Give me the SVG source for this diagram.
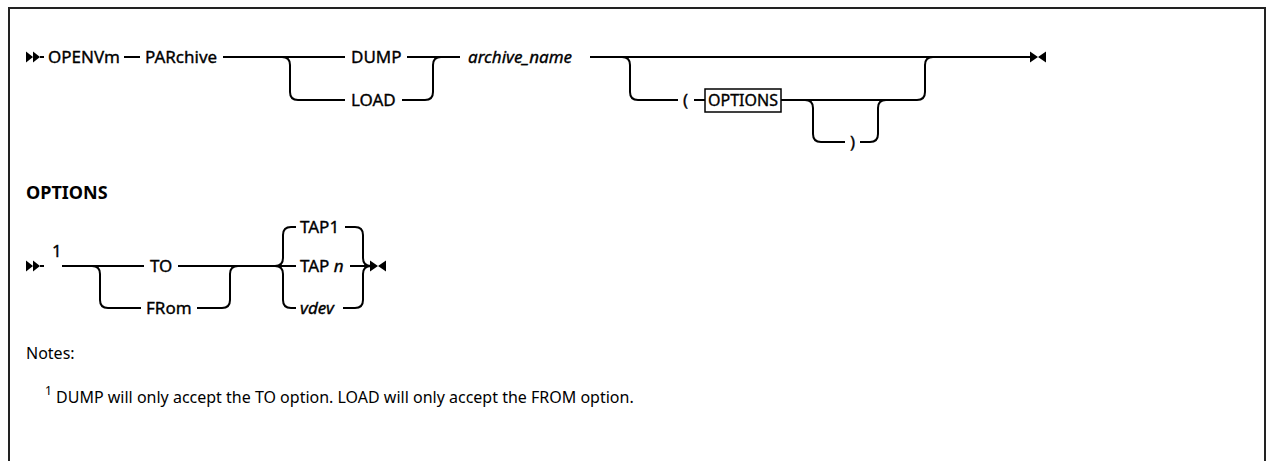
<svg xmlns="http://www.w3.org/2000/svg" width="1274" height="461" viewBox="0 0 1274 461">
<style>
text{font-family:"Noto Sans","Liberation Sans",sans-serif;font-size:16px;fill:#000}
.d{stroke:#000;stroke-width:0.35;font-size:17px}
.bx{font-size:16px}
.b{font-weight:bold;font-size:18px}
.i{font-style:italic}
.sup{font-size:12px}
.ln{fill:none;stroke:#000;stroke-width:2}
.ar{fill:#000}
</style>
<rect width="1274" height="461" fill="#fff"/>
<path d="M9,461 V8 H1265 V461" fill="none" stroke="#222" stroke-width="2"/>
<g id="connectors">
<path class="ln" d="M40,57 H44 M124,57 H140 M223,57 H345 M282,57 q8,0 8,8 V92 q0,8 8,8 H345"/>
<path class="ln" d="M407,57 H460 M402,100 H425 q8,0 8,-8 V65 q0,-8 8,-8"/>
<path class="ln" d="M590,57 H1030 M622,57 q8,0 8,8 V92 q0,8 8,8 H678 M694,100 H705 M781,100 H917 q8,0 8,-8 V65 q0,-8 8,-8 M805,100 q8,0 8,8 V134 q0,8 8,8 H845 M860,142 H870 q8,0 8,-8 V108 q0,-8 8,-8"/>
<path class="ln" d="M40,266 H44 M62,266 H144 M92,266 q8,0 8,8 V300 q0,8 8,8 H141 M178,266 H296 M197,308 H222 q8,0 8,-8 V274 q0,-8 8,-8 M275,266 q8,0 8,-8 V235 q0,-8 8,-8 H296 M275,266 q8,0 8,8 V300 q0,8 8,8 H296 M345,227 H355 q8,0 8,8 V258 q0,8 8,8 M350,266 H371 M343,308 H355 q8,0 8,-8 V274 q0,-8 8,-8"/>
<path class="ar" d="M26,51.5 L33,57 L26,62.5 Z M33,51.5 L40,57 L33,62.5 Z M1030,51.5 L1038,57 L1030,62.5 Z M1046,51.5 L1038,57 L1046,62.5 Z"/>
<path class="ar" d="M26,260.5 L33,266 L26,271.5 Z M33,260.5 L40,266 L33,271.5 Z M370,260.5 L378,266 L370,271.5 Z M386,260.5 L378,266 L386,271.5 Z"/>
</g>
<g id="n-openvm"><text class="d" x="48" y="63">OPENVm</text></g>
<g id="n-parchive"><text class="d" x="145" y="63">PARchive</text></g>
<g id="n-dump"><text class="d" x="351" y="63">DUMP</text></g>
<g id="n-load"><text class="d" x="351" y="106">LOAD</text></g>
<g id="n-archive"><text class="d i" x="468" y="63">archive_name</text></g>
<g id="n-lparen"><text class="d" x="683" y="106">(</text></g>
<g id="n-options"><rect x="705" y="89" width="76" height="23" fill="#fff" stroke="#000" stroke-width="1.5"/><text class="d bx" x="743" y="106" text-anchor="middle">OPTIONS</text></g>
<g id="n-rparen"><text class="d" x="850" y="148">)</text></g>
<g id="n-opt-title"><text class="b" x="26" y="199">OPTIONS</text></g>
<g id="n-note1"><text class="d" x="52" y="257" font-size="14">1</text></g>
<g id="n-to"><text class="d" x="150" y="272">TO</text></g>
<g id="n-from"><text class="d" x="146" y="314">FRom</text></g>
<g id="n-tap1"><text class="d" x="300" y="233">TAP1</text></g>
<g id="n-tapn"><text class="d" x="300" y="272">TAP <tspan class="i">n</tspan></text></g>
<g id="n-vdev"><text class="d i" x="300" y="314">vdev</text></g>
<g id="notes"><text x="26" y="359">Notes:</text><text x="45" y="403"><tspan class="sup" dy="-8">1</tspan><tspan dy="8"> DUMP will only accept the TO option. LOAD will only accept the FROM option.</tspan></text></g>
</svg>
